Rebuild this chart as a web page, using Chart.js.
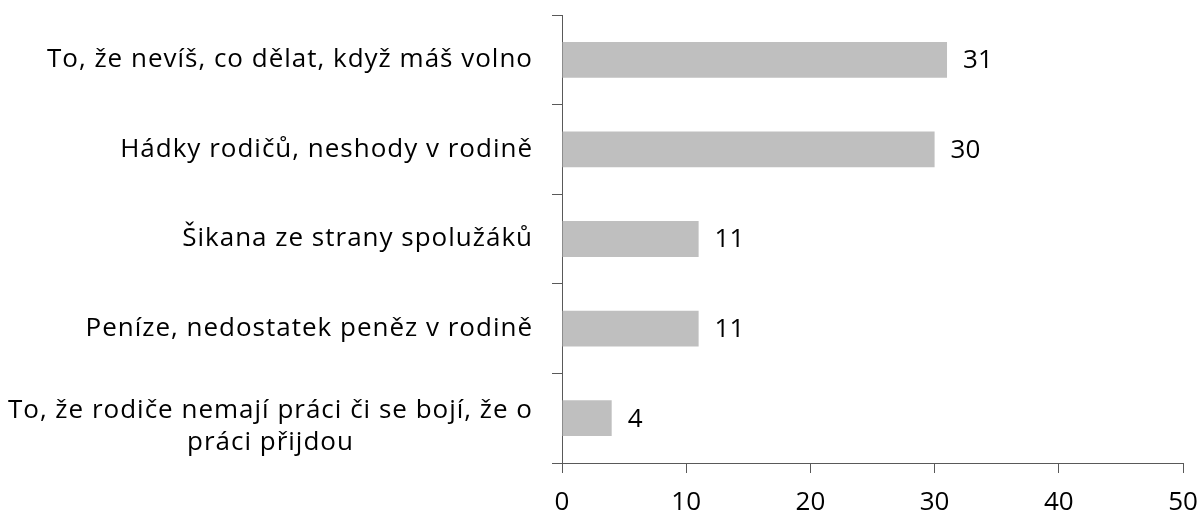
<!DOCTYPE html>
<html>
<head>
<meta charset="utf-8">
<script src="https://cdn.jsdelivr.net/npm/chart.js@4.4.1/dist/chart.umd.min.js"></script>
<style>
html,body{margin:0;padding:0;background:#fff;}
#wrap{width:1202px;height:515px;position:relative;}
</style>
</head>
<body>
<div id="wrap"><canvas id="c" width="1202" height="515"></canvas></div>
<script>
const categories = [
  "To, že nevíš, co dělat, když máš volno",
  "Hádky rodičů, neshody v rodině",
  "Šikana ze strany spolužáků",
  "Peníze, nedostatek peněz v rodině",
  ["To, že rodiče nemají práci či se bojí, že o", "práci přijdou"]
];
const values = [31, 30, 11, 11, 4];
const xTicks = [0, 10, 20, 30, 40, 50];

const FONT = "'Open Sans', sans-serif";
const FSIZE = 26;
const AXIS_COLOR = "#595959";

const yLabelPlugin = {
  id: 'yLabels',
  afterDraw(chart) {
    const ctx = chart.ctx;
    const y = chart.scales.y;
    ctx.save();
    ctx.font = FSIZE + "px " + FONT;
    ctx.fillStyle = "#000";
    ctx.textBaseline = "middle";
    ctx.textAlign = "center";
    ctx.letterSpacing = "1px";
    const rightEdge = y.right - 10 - 19;
    const lh = 32;
    categories.forEach((lab, i) => {
      const lines = Array.isArray(lab) ? lab : [lab];
      const maxW = Math.max(...lines.map(l => ctx.measureText(l).width));
      const cx = rightEdge - maxW / 2;
      const cy = y.getPixelForValue(i);
      const start = cy - (lines.length - 1) * lh / 2 + (lines.length > 1 ? 8 : 0);
      lines.forEach((l, k) => ctx.fillText(l, cx, start + k * lh));
    });
    // data labels
    ctx.letterSpacing = "0px";
    const meta = chart.getDatasetMeta(0);
    ctx.textAlign = "left";
    meta.data.forEach((bar, i) => {
      ctx.fillText(String(values[i]), bar.x + 16, bar.y + 1);
    });
    ctx.restore();
  }
};

new Chart(document.getElementById('c'), {
  type: 'bar',
  data: {
    labels: categories,
    datasets: [{
      data: values,
      backgroundColor: '#bfbfbf',
      borderWidth: 0,
      categoryPercentage: 1,
      barPercentage: 0.4
    }]
  },
  options: {
    indexAxis: 'y',
    responsive: false,
    animation: false,
    devicePixelRatio: 1,
    layout: { padding: { top: 15, right: 19, left: 0, bottom: 0 } },
    plugins: { legend: { display: false }, tooltip: { enabled: false } },
    scales: {
      x: {
        min: 0, max: 50,
        afterBuildTicks(s) { s.ticks = xTicks.map(v => ({ value: v })); },
        afterFit(s) { s.height = 52; s.paddingLeft = 0; s.paddingRight = 0; },
        grid: { drawOnChartArea: false, drawTicks: true, tickLength: 10, color: AXIS_COLOR, lineWidth: 1 },
        border: { display: true, color: AXIS_COLOR, width: 1 },
        ticks: { color: '#000', font: { family: FONT, size: FSIZE }, padding: 14, maxRotation: 0 }
      },
      y: {
        afterFit(s) { s.width = 562; },
        grid: { drawOnChartArea: false, drawTicks: true, tickLength: 10, color: AXIS_COLOR, lineWidth: 1, offset: true },
        border: { display: true, color: AXIS_COLOR, width: 1 },
        ticks: { display: false }
      }
    }
  },
  plugins: [yLabelPlugin]
});
</script>
</body>
</html>
